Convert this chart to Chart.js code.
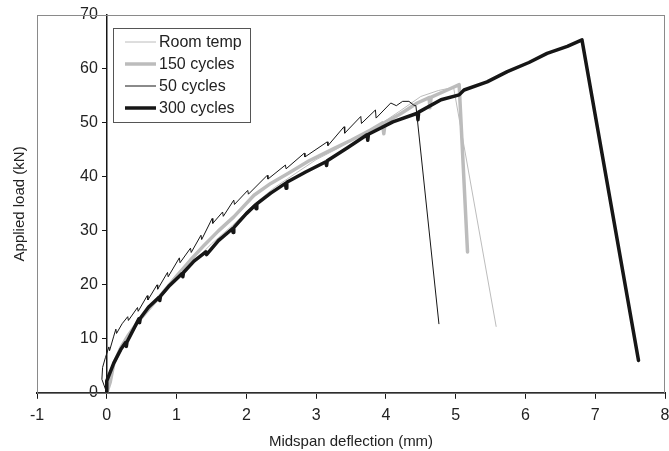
<!DOCTYPE html>
<html lang="en">
<head>
  <meta charset="UTF-8" />
  <title>Applied load vs midspan deflection</title>
  <script src="https://cdn.jsdelivr.net/npm/chart.js@4"></script>
  <style>
    body {
      margin: 0;
      background: #fff;
    }
    #wrap {
      width: 669px;
      height: 451px;
    }
  </style>
</head>
<body>
  <div id="wrap"><canvas id="chart" width="669" height="451"></canvas></div>

  <script>
    // Series (x = deflection mm, y = load kN)
    const roomX = [0, 0.02, 0.08, 0.2, 0.35, 0.5, 0.7, 0.9, 1.1, 1.3, 1.5, 1.8, 2.1, 2.4, 2.7, 3.0, 3.3, 3.6, 3.9, 4.2, 4.5, 4.75, 4.97, 5.58];
    const roomY = [0, 2, 4.5, 8, 11.3, 13.8, 16.6, 19.5, 22.0, 25.0, 27.6, 31.0, 34.8, 38.0, 40.6, 43.2, 45.2, 47.4, 49.6, 52.2, 54.9, 56.0, 56.6, 12.3];

    const c150X = [0, 0.05, 0.1, 0.2, 0.3, 0.45, 0.6, 0.8, 1.0, 1.2, 1.4, 1.6, 1.82, 2.11, 2.35, 2.59, 2.9, 3.26, 3.5, 3.78, 3.95, 3.97, 3.99, 4.2, 4.45, 4.62, 4.63, 4.65, 4.88, 5.05, 5.17];
    const c150Y = [0, 2, 5.4, 8.3, 10.5, 13.2, 15.5, 18.5, 21.6, 24.6, 27.4, 30.0, 32.6, 36.6, 38.8, 40.6, 43.0, 45.3, 46.8, 48.7, 50.0, 48.0, 50.1, 51.6, 53.7, 54.7, 52.8, 54.8, 56.1, 57.1, 26.1];

    const c50X = [0, -0.07, -0.06, -0.02, 0.03, 0.04, 0.1, 0.13, 0.14, 0.22, 0.3, 0.31, 0.44, 0.45, 0.58, 0.59, 0.72, 0.73, 0.87, 0.88, 1.04, 1.05, 1.2, 1.21, 1.35, 1.36, 1.51, 1.52, 1.66, 1.67, 1.82, 1.83, 2.02, 2.03, 2.3, 2.31, 2.56, 2.57, 2.83, 2.84, 3.16, 3.17, 3.4, 3.41, 3.64, 3.65, 3.85, 3.86, 4.07, 4.15, 4.24, 4.33, 4.4, 4.43, 4.76];
    const c50Y = [0, 2.5, 4.7, 6.5, 8.5, 7.8, 10.5, 11.8, 11.0, 12.8, 14.1, 13.4, 15.8, 15.1, 18.0, 17.2, 20.0, 19.2, 22.3, 21.5, 25.0, 24.1, 26.8, 26.0, 29.2, 28.4, 32.3, 31.4, 33.5, 32.7, 35.7, 34.9, 37.5, 36.8, 40.3, 39.6, 42.2, 41.5, 44.4, 43.7, 46.5, 45.8, 49.3, 48.1, 51.2, 49.9, 52.4, 50.9, 53.7, 53.2, 54.0, 54.0, 53.3, 53.2, 12.8];

    const c300X = [0, 0, 0.1, 0.2, 0.27, 0.28, 0.29, 0.46, 0.47, 0.48, 0.6, 0.75, 0.76, 0.77, 0.9, 1.08, 1.09, 1.1, 1.25, 1.42, 1.43, 1.6, 1.8, 1.81, 1.82, 2.0, 2.13, 2.14, 2.15, 2.35, 2.56, 2.57, 2.58, 2.85, 3.14, 3.15, 3.16, 3.45, 3.73, 3.74, 3.75, 4.1, 4.45, 4.46, 4.47, 4.79, 5.05, 5.12, 5.45, 5.74, 6.05, 6.31, 6.6, 6.81, 7.62];
    const c300Y = [0, 2.2, 5.5, 8.0, 9.3, 8.6, 9.4, 13.7, 13.0, 13.8, 15.9, 17.7, 17.1, 17.9, 19.9, 22.1, 21.5, 22.3, 24.4, 26.1, 25.6, 28.2, 30.4, 29.7, 30.6, 33.2, 34.8, 34.1, 35.0, 37.0, 38.8, 37.9, 39.0, 40.9, 42.8, 42.1, 43.0, 45.4, 47.8, 46.8, 47.9, 50.2, 51.8, 50.6, 52.0, 54.3, 55.2, 56.1, 57.6, 59.5, 61.2, 62.9, 64.2, 65.4, 6.0];

    const xTicks = [-1, 0, 1, 2, 3, 4, 5, 6, 7, 8];
    const yTicks = [0, 10, 20, 30, 40, 50, 60, 70];

    const GRAY = '#bcbcbc';
    const BLACK = '#161616';
    const FONT = "'Liberation Sans', Arial, sans-serif";

    const pts = (xs, ys) => xs.map((x, i) => ({ x, y: ys[i] }));

    function series(label, xs, ys, color, width, order) {
      return {
        label,
        data: pts(xs, ys),
        borderColor: color,
        backgroundColor: color,
        borderWidth: width,
        borderJoinStyle: 'round',
        borderCapStyle: 'round',
        pointRadius: 0,
        showLine: true,
        tension: 0,
        order
      };
    }

    // frame, y title and the boxed legend inside the plot
    const extras = {
      id: 'extras',
      beforeDatasetsDraw(chart) {
        const { ctx, chartArea: a } = chart;
        ctx.save();
        ctx.strokeStyle = '#8a8a8a';
        ctx.lineWidth = 1;
        ctx.strokeRect(a.left + 0.5, a.top + 0.5, a.right - a.left - 1, a.bottom - a.top);
        ctx.restore();
      },
      afterDraw(chart) {
        const { ctx, chartArea: a } = chart;
        ctx.save();
        ctx.fillStyle = '#222';
        ctx.font = '15px ' + FONT;
        ctx.textAlign = 'center';
        ctx.textBaseline = 'middle';
        ctx.translate(20, (a.top + a.bottom) / 2);
        ctx.rotate(-Math.PI / 2);
        ctx.fillText('Applied load (kN)', 0, 0);
        ctx.restore();

        // legend box
        const bx = 113, by = 28, bw = 137, bh = 94;
        ctx.save();
        ctx.fillStyle = '#fff';
        ctx.fillRect(bx, by, bw, bh);
        ctx.strokeStyle = '#555';
        ctx.lineWidth = 1;
        ctx.strokeRect(bx + 0.5, by + 0.5, bw, bh);
        chart.data.datasets.forEach((ds, row) => {
          const yy = by + 14 + row * 22;
          ctx.strokeStyle = ds.borderColor;
          ctx.lineWidth = ds.borderWidth;
          ctx.beginPath();
          ctx.moveTo(125, yy);
          ctx.lineTo(156, yy);
          ctx.stroke();
          ctx.fillStyle = '#222';
          ctx.font = '16px ' + FONT;
          ctx.textAlign = 'left';
          ctx.textBaseline = 'middle';
          ctx.fillText(ds.label, 159, yy + 1);
        });
        ctx.restore();
      }
    };

    new Chart(document.getElementById('chart'), {
      type: 'scatter',
      data: {
        datasets: [
          series('Room temp', roomX, roomY, GRAY, 1, 2),
          series('150 cycles', c150X, c150Y, GRAY, 3.5, 3),
          series('50 cycles', c50X, c50Y, BLACK, 1, 1),
          series('300 cycles', c300X, c300Y, BLACK, 3.5, 0)
        ]
      },
      options: {
        responsive: false,
        animation: false,
        layout: { padding: { left: 37, top: 15, right: 4, bottom: 0 } },
        plugins: {
          legend: { display: false },
          tooltip: { enabled: false }
        },
        scales: {
          x: {
            type: 'linear',
            position: 'bottom',
            min: xTicks[0],
            max: xTicks[xTicks.length - 1],
            afterBuildTicks: s => { s.ticks = xTicks.map(v => ({ value: v })); },
            // let the end labels hang over the edge like the original
            afterFit: s => { s.paddingLeft = 0; s.paddingRight = 0; },
            border: { color: BLACK, width: 2 },
            grid: { drawOnChartArea: false, tickLength: 6, color: BLACK, tickWidth: 1 },
            ticks: { color: '#222', font: { family: FONT, size: 16 }, padding: 7, maxRotation: 0 },
            title: { display: true, text: 'Midspan deflection (mm)', color: '#222', font: { family: FONT, size: 15 }, padding: { top: 1, bottom: 0 } }
          },
          y: {
            type: 'linear',
            // axis crosses at x = 0 as in the original figure
            position: { x: 0 },
            min: yTicks[0],
            max: yTicks[yTicks.length - 1],
            afterBuildTicks: s => { s.ticks = yTicks.map(v => ({ value: v })); },
            border: { color: BLACK, width: 1.5 },
            grid: { drawOnChartArea: false, tickLength: 4, color: BLACK },
            // labels sit right-aligned on the crossing axis, pad them off the line
            ticks: { color: '#222', font: { family: FONT, size: 16 }, callback: v => v + '  ' }
          }
        }
      },
      plugins: [extras]
    });
  </script>
</body>
</html>
